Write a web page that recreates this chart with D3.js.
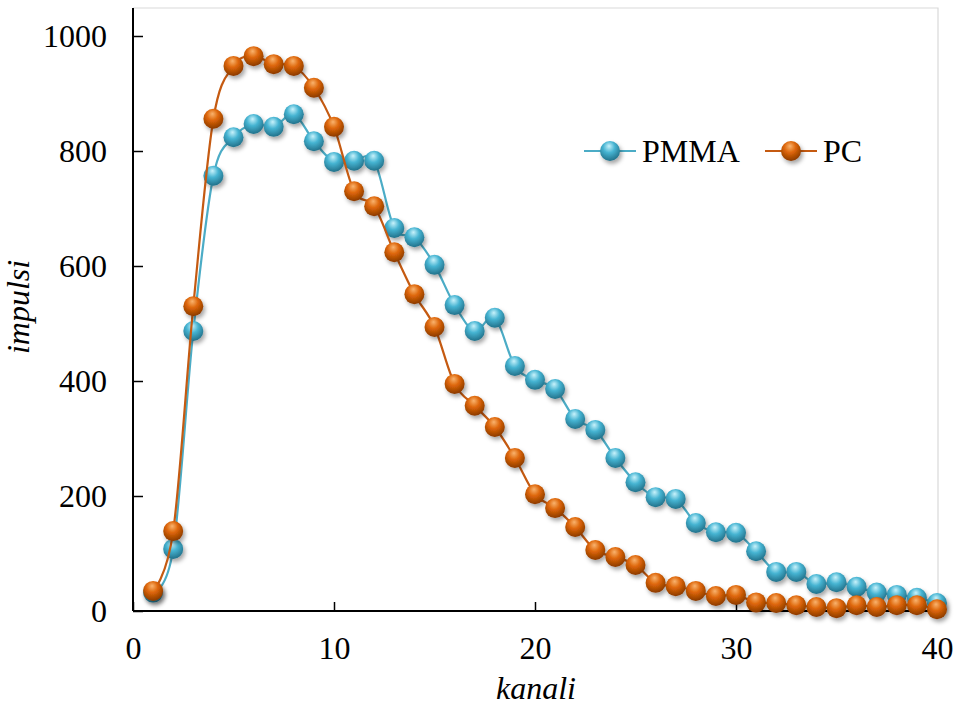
<!DOCTYPE html>
<html><head><meta charset="utf-8">
<script src="https://cdn.jsdelivr.net/npm/d3@7"></script>
<style>body{margin:0;background:#fff}svg{display:block}
text{font-family:"Times New Roman","Liberation Serif",Tinos,Times,serif;}</style>
</head><body>
<svg id="c" width="956" height="707"></svg>
<script>
const channels = d3.range(1, 41);
const pmma = [32,108,487,757,824,847,842,864,817,781,783,783,666,650,602,532,487,510,426,402,386,334,315,266,224,198,195,153,137,136,104,68,68,47,50,42,32,28,23,14];
const pc = [35,139,530,856,948,965,951,948,910,842,730,704,624,551,494,395,357,320,266,203,179,146,106,94,80,49,43,35,26,28,15,14,10,7,5,10,7,10,10,3];
const xTicks = [0,10,20,30,40];
const yTicks = [0,200,400,600,800,1000];
const seriesNames = ["PMMA","PC"];

const svg = d3.select("#c");
const x = d3.scaleLinear().domain([0,40]).range([133,937]);
const y = d3.scaleLinear().domain([0,1000]).range([611,36]);
const font = '"Times New Roman","Liberation Serif",Tinos,Times,serif';
const FS = 32;

const defs = svg.append("defs");
function grad(id, light, mid, dark){
  const g = defs.append("radialGradient").attr("id",id).attr("cx","45%").attr("cy","35%").attr("r","65%").attr("fx","45%").attr("fy","25%");
  g.append("stop").attr("offset","0%").attr("stop-color",light);
  g.append("stop").attr("offset","45%").attr("stop-color",mid);
  g.append("stop").attr("offset","100%").attr("stop-color",dark);
}
grad("gB","#c8f2fb","#46b4d2","#22718a");
grad("gO","#f9b36e","#dd6508","#8a3a02");
const f = defs.append("filter").attr("id","sh").attr("x","-50%").attr("y","-50%").attr("width","200%").attr("height","200%");
f.append("feDropShadow").attr("dx",2).attr("dy",3).attr("stdDeviation",2).attr("flood-color","#000").attr("flood-opacity",0.35);

// frame
svg.append("path").attr("d",`M133,8H938V611`).attr("fill","none").attr("stroke","#d9d9d9").attr("stroke-width",1.2);

// axes
const yAxis = d3.axisLeft(y).tickValues(yTicks).tickSize(-10).tickPadding(26).tickFormat(d3.format("d"));
const gy = svg.append("g").attr("transform","translate(133,0)").call(yAxis).attr("font-family",font);
gy.select(".domain").attr("d","M0,8V611").attr("stroke","#000").attr("stroke-width",2);
gy.selectAll(".tick line").attr("stroke","#000").attr("stroke-width",1.5);
gy.selectAll(".tick text").style("font-family",font).attr("font-size",FS).attr("fill","#000");

const xAxis = d3.axisBottom(x).tickValues(xTicks).tickSize(-9).tickPadding(25).tickFormat(d3.format("d"));
const gx = svg.append("g").attr("transform","translate(0,611)").call(xAxis).attr("font-family",font);
gx.select(".domain").attr("d","M133,0H938").attr("stroke","#000").attr("stroke-width",2);
gx.selectAll(".tick line").attr("stroke","#000").attr("stroke-width",1.5);
gx.selectAll(".tick text").style("font-family",font).attr("font-size",FS).attr("fill","#000");

// titles
svg.append("text").attr("x",536).attr("y",699).attr("text-anchor","middle").style("font-family",font).attr("font-style","italic").attr("font-size",FS).text("kanali");
svg.append("text").attr("transform","translate(29,307) rotate(-90)").attr("text-anchor","middle").style("font-family",font).attr("font-style","italic").attr("font-size",FS).text("impulsi");

const line = d3.line().x((d,i)=>x(channels[i])).y(d=>y(d)).curve(d3.curveCardinal.tension(0));
const series = [
  {name:seriesNames[0], data:pmma, stroke:"#4bacc6", fill:"url(#gB)"},
  {name:seriesNames[1], data:pc, stroke:"#c55a11", fill:"url(#gO)"}
];
const R = 10;
series.forEach(s=>{
  svg.append("path").attr("d",line(s.data)).attr("fill","none").attr("stroke",s.stroke).attr("stroke-width",2.2);
  svg.append("g").selectAll("circle").data(s.data).join("circle")
    .attr("cx",(d,i)=>x(channels[i])).attr("cy",d=>y(d)).attr("r",R)
    .attr("fill",s.fill).attr("filter","url(#sh)");
});

// legend
const legX = [584, 765];
series.forEach((s,i)=>{
  const g = svg.append("g").attr("transform",`translate(${legX[i]},151)`);
  g.append("line").attr("x1",0).attr("x2",52).attr("y1",0).attr("y2",0).attr("stroke",s.stroke).attr("stroke-width",2.2);
  g.append("circle").attr("cx",26).attr("cy",0).attr("r",R).attr("fill",s.fill).attr("filter","url(#sh)");
  g.append("text").attr("x",58).attr("y",11).style("font-family",font).attr("font-size",FS).attr("fill","#000").text(s.name);
});
</script>
</body></html>
